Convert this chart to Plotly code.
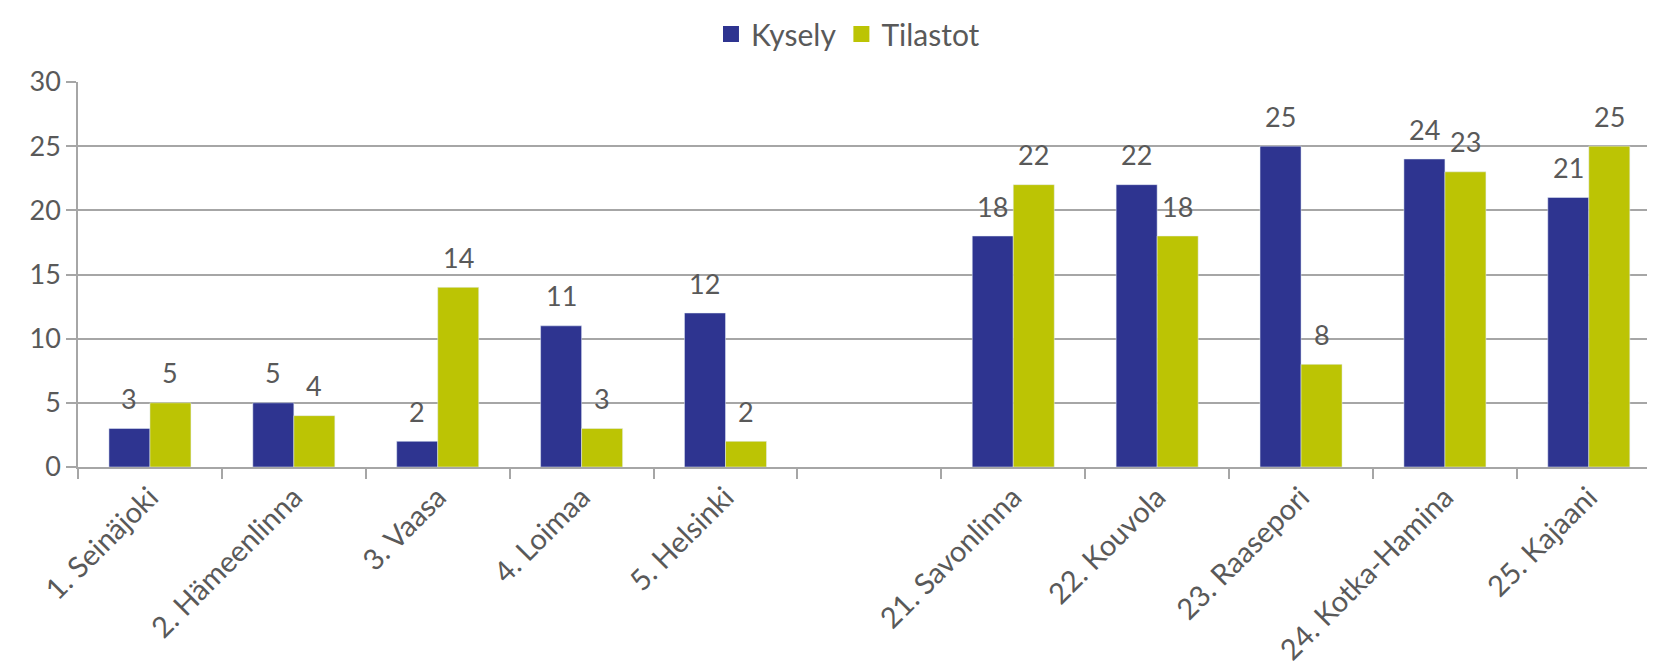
import plotly.graph_objects as go

categories = ["1. Seinäjoki", "2. Hämeenlinna", "3. Vaasa", "4. Loimaa", "5. Helsinki", " ",
              "21. Savonlinna", "22. Kouvola", "23. Raasepori", "24. Kotka-Hamina", "25. Kajaani"]
kysely = [3, 5, 2, 11, 12, None, 18, 22, 25, 24, 21]
tilastot = [5, 4, 14, 3, 2, None, 22, 18, 8, 23, 25]
y_ticks = [0, 5, 10, 15, 20, 25, 30]

BLUE = "#2E3490"
GREEN = "#BCC404"
TEXT = "#595959"
GRID = "#A6A6A6"
FONT = "Lato"

fig = go.Figure()
for name, vals, col in (("Kysely", kysely, BLUE), ("Tilastot", tilastot, GREEN)):
    fig.add_trace(go.Bar(name=name, x=categories, y=vals, marker_color=col,
                         showlegend=False, legendgroup=name))
    fig.add_trace(go.Scatter(name=name, x=[None], y=[None], mode="markers",
                             marker=dict(symbol="square", size=19, color=col),
                             legendgroup=name, showlegend=True))

# page has an 8px body margin, so the figure is drawn 8px smaller
W, H = 1647, 655
ml, mr, mt, mb = 70, 0, 74, 196
x_range = [-0.5, len(categories) - 0.54]
cat_w = (W - ml - mr) / (x_range[1] - x_range[0])
bargap = 0.43
bar_w = cat_w * (1 - bargap) / 2

for series, sign in ((kysely, -1), (tilastot, 1)):
    for c, v in zip(categories, series):
        if v is None:
            continue
        fig.add_annotation(x=c, y=v, text=str(v), showarrow=False,
                           xshift=sign * bar_w / 2, yshift=30,
                           font=dict(size=27, color=TEXT, family=FONT))

fig.update_layout(
    width=W, height=H,
    margin=dict(l=ml, r=mr, t=mt, b=mb, autoexpand=False),
    barmode="group", bargap=bargap, bargroupgap=0,
    plot_bgcolor="white", paper_bgcolor="white",
    font=dict(family=FONT, size=27, color=TEXT),
    legend=dict(orientation="h", xref="container", yref="container",
                x=0.51, xanchor="center", y=1.0, yanchor="top",
                font=dict(size=30, color=TEXT), itemwidth=30),
    xaxis=dict(type="category", tickson="boundaries", ticks="outside", ticklen=10,
               range=x_range,
               tickcolor=GRID, tickwidth=1.5, showline=True, linecolor=GRID, linewidth=1.5,
               tickangle=-45, tickfont=dict(size=29, color=TEXT), showgrid=False,
               automargin=False),
    yaxis=dict(range=[0, 30], tickvals=y_ticks, ticks="outside", ticklen=10,
               tickcolor=GRID, tickwidth=1.5, showline=True, linecolor=GRID, linewidth=1.5,
               showgrid=True, gridcolor=GRID, gridwidth=1.5, zeroline=False,
               tickfont=dict(size=27, color=TEXT), automargin=False),
)

fig.write_html("out.html")
